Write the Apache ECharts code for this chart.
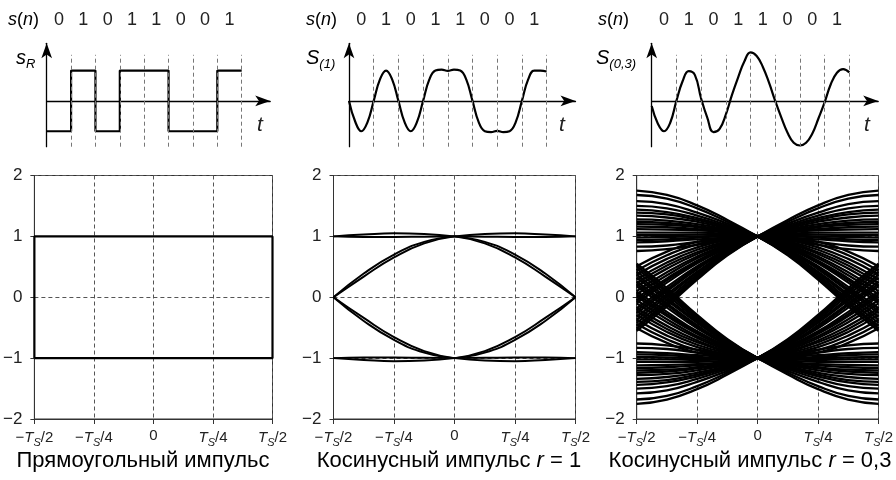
<!DOCTYPE html>
<html><head><meta charset="utf-8">
<script src="https://cdn.jsdelivr.net/npm/echarts@6/dist/echarts.min.js"></script>
<style>html,body{margin:0;padding:0;background:#fff}#c{width:896px;height:480px}</style>
</head><body><div id="c"></div>
<script>
// ---------- data ----------
const bits = ['0','1','0','1','1','0','0','1'];
const bitCenterT = [0.5,1.5,2.5,3.5,4.5,5.5,6.5,7.5];
const boundaryT = [1,2,3,4,5,6,7,8];
const squareT = [0,1,2,3,4,5,6,7,8];
const squareLevel = [-1,1,-1,1,1,-1,-1,1,1];
const waveT = [0,0.25,0.5,0.75,1,1.25,1.5,1.75,2,2.25,2.5,2.75,3,3.25,3.5,3.75,4,4.25,4.5,4.75,5,5.25,5.5,5.75,6,6.25,6.5,6.75,7,7.25,7.5,7.75,8];
const cos1Wave = [0,-0.68,-1,-0.70,0,0.70,1,0.70,0,-0.70,-1,-0.70,0,0.70,1,1.03,0.99,1.03,1,0.70,0,-0.70,-1,-1.03,-0.99,-1.03,-1,-0.70,0,0.70,1,1.0,0.97];
const cos03Wave = [-0.17,-0.75,-1.0,-0.72,0,0.65,0.98,0.85,0.08,-0.55,-1.03,-0.92,-0.45,0.2,0.78,1.3,1.6,1.48,1.12,0.6,0,-0.55,-1.05,-1.38,-1.47,-1.38,-1.08,-0.58,-0.05,0.55,0.93,1.05,0.94];

const eyeXLeft = [-0.5,-0.375,-0.25,-0.125,0];
const eyeXRight = [0.5,0.375,0.25,0.125,0];
const rectEyeX = [-0.5,-0.5,0.5,0.5,-0.5];
const rectEyeY = [-1,1,1,-1,-1];

const cos1EyeUpper = [
  [0,0.39,0.70,0.91,1],
  [0,0.34,0.655,0.885,1],
  [1,1.03,1.05,1.04,1],
  [1,0.99,0.99,0.995,1]
];
const cos1EyeLower = [
  [0,-0.39,-0.70,-0.91,-1],
  [0,-0.34,-0.655,-0.885,-1],
  [-1,-1.03,-1.05,-1.04,-1],
  [-1,-0.99,-0.99,-0.995,-1]
];
const cos03EyeUpper = [
  [1.75,1.68,1.51,1.27,1],
  [1.68,1.62,1.46,1.24,1],
  [1.58,1.53,1.39,1.21,1],
  [1.50,1.46,1.34,1.18,1],
  [1.44,1.40,1.30,1.16,1],
  [1.39,1.36,1.27,1.15,1],
  [1.34,1.31,1.24,1.13,1],
  [1.28,1.26,1.20,1.11,1],
  [1.24,1.22,1.17,1.10,1],
  [1.20,1.19,1.15,1.08,1],
  [1.16,1.15,1.12,1.07,1],
  [1.12,1.11,1.10,1.06,1],
  [1.06,1.06,1.06,1.04,1],
  [1.02,1.02,1.03,1.02,1],
  [0.98,0.99,1.00,1.01,1],
  [0.94,0.95,0.98,1.00,1],
  [0.90,0.92,0.95,0.98,1],
  [0.83,0.85,0.91,0.96,1],
  [0.76,0.79,0.86,0.94,1],
  [0.51,0.75,0.91,0.98,1],
  [0.44,0.69,0.87,0.96,1],
  [0.37,0.63,0.82,0.94,1],
  [0.29,0.57,0.78,0.92,1],
  [0.23,0.52,0.74,0.90,1],
  [0.18,0.47,0.71,0.89,1],
  [0.10,0.41,0.67,0.87,1],
  [0.05,0.36,0.64,0.85,1],
  [-0.01,0.31,0.60,0.84,1],
  [-0.05,0.28,0.58,0.83,1],
  [-0.09,0.24,0.56,0.81,1],
  [-0.18,0.17,0.51,0.79,1],
  [-0.22,0.13,0.48,0.78,1],
  [-0.26,0.10,0.46,0.77,1],
  [-0.32,0.05,0.42,0.75,1],
  [-0.37,0.01,0.40,0.74,1],
  [-0.42,-0.04,0.37,0.72,1],
  [-0.47,-0.08,0.34,0.71,1],
  [-0.51,-0.11,0.31,0.70,1],
  [-0.55,-0.15,0.29,0.69,1]
];
const cos03EyeLower = [
  [-1.75,-1.68,-1.51,-1.27,-1],
  [-1.68,-1.62,-1.46,-1.24,-1],
  [-1.58,-1.53,-1.39,-1.21,-1],
  [-1.50,-1.46,-1.34,-1.18,-1],
  [-1.44,-1.40,-1.30,-1.16,-1],
  [-1.39,-1.36,-1.27,-1.15,-1],
  [-1.34,-1.31,-1.24,-1.13,-1],
  [-1.28,-1.26,-1.20,-1.11,-1],
  [-1.24,-1.22,-1.17,-1.10,-1],
  [-1.20,-1.19,-1.15,-1.08,-1],
  [-1.16,-1.15,-1.12,-1.07,-1],
  [-1.12,-1.11,-1.10,-1.06,-1],
  [-1.06,-1.06,-1.06,-1.04,-1],
  [-1.02,-1.02,-1.03,-1.02,-1],
  [-0.98,-0.99,-1.00,-1.01,-1],
  [-0.94,-0.95,-0.98,-1.00,-1],
  [-0.90,-0.92,-0.95,-0.98,-1],
  [-0.83,-0.85,-0.91,-0.96,-1],
  [-0.76,-0.79,-0.86,-0.94,-1],
  [-0.51,-0.75,-0.91,-0.98,-1],
  [-0.44,-0.69,-0.87,-0.96,-1],
  [-0.37,-0.63,-0.82,-0.94,-1],
  [-0.29,-0.57,-0.78,-0.92,-1],
  [-0.23,-0.52,-0.74,-0.90,-1],
  [-0.18,-0.47,-0.71,-0.89,-1],
  [-0.10,-0.41,-0.67,-0.87,-1],
  [-0.05,-0.36,-0.64,-0.85,-1],
  [0.01,-0.31,-0.60,-0.84,-1],
  [0.05,-0.28,-0.58,-0.83,-1],
  [0.09,-0.24,-0.56,-0.81,-1],
  [0.18,-0.17,-0.51,-0.79,-1],
  [0.22,-0.13,-0.48,-0.78,-1],
  [0.26,-0.10,-0.46,-0.77,-1],
  [0.32,-0.05,-0.42,-0.75,-1],
  [0.37,-0.01,-0.40,-0.74,-1],
  [0.42,0.04,-0.37,-0.72,-1],
  [0.47,0.08,-0.34,-0.71,-1],
  [0.51,0.11,-0.31,-0.70,-1],
  [0.55,0.15,-0.29,-0.69,-1]
];

const xTickLabels = ['{n|−}{i|T}{s|S}{n|/2}','{n|−}{i|T}{s|S}{n|/4}','{n|0}','{i|T}{s|S}{n|/4}','{i|T}{s|S}{n|/2}'];
const yTickLabels = ['−2','−1','0','1','2'];
const panelTitles = ['Прямоугольный импульс','Косинусный импульс {i|r} = 1','Косинусный импульс {i|r} = 0,3'];
const signalNames = ['{i|s}{s|R}','{i|S}{s|(1)}','{i|S}{s|(0,3)}'];

// ---------- layout ----------
const FONT = '"Liberation Sans", Arial, sans-serif';
const TXT = '#222';
const topGrids = [
  {left:46.7, top:43.3, width:223.5, height:103.4},
  {left:349, top:43.3, width:226.5, height:103.4},
  {left:651.7, top:43.3, width:226.5, height:103.4}
];
const botGrids = [
  {left:33.5, top:175.5, width:239, height:243.5},
  {left:333.5, top:175.5, width:242, height:243.5},
  {left:636.7, top:175.5, width:242.3, height:243.5}
];
const titleCenters = [143, 449, 750];
const sNameX = [8, 306, 598];
const sigLabelX = [16, 306, 596];
const tLabelX = [260, 562, 867];

const grid = [], xAxis = [], yAxis = [], series = [];
topGrids.forEach(g => grid.push(Object.assign({containLabel:false}, g)));
botGrids.forEach(g => grid.push(Object.assign({containLabel:false, show:true, borderColor:'#333', borderWidth:1}, g)));

const arrowLine = {show:true, onZero:true, symbol:['none','arrow'], symbolSize:[8,15], lineStyle:{color:'#000', width:1.3}};
for (let i=0;i<3;i++){
  xAxis.push({gridIndex:i, type:'value', min:0, max:9.17, axisLine:arrowLine, axisTick:{show:false}, axisLabel:{show:false}, splitLine:{show:false}});
  yAxis.push({gridIndex:i, type:'value', min:-1.51, max:1.9, axisLine:arrowLine, axisTick:{show:false}, axisLabel:{show:false}, splitLine:{show:false}});
}
const labelRich = {
  n:{fontSize:15, fontFamily:FONT, color:TXT},
  i:{fontSize:15, fontFamily:FONT, fontStyle:'italic', color:TXT},
  s:{fontSize:11, fontFamily:FONT, fontStyle:'italic', color:TXT, padding:[9,0,0,0]}
};
for (let i=0;i<3;i++){
  xAxis.push({gridIndex:3+i, type:'value', min:-0.5, max:0.5, interval:0.25,
    axisLine:{show:true, onZero:false, lineStyle:{color:'#333', width:1}},
    axisTick:{show:true, length:5, lineStyle:{color:'#333'}},
    axisLabel:{margin:9, formatter:v => xTickLabels[Math.round((v+0.5)/0.25)], rich:labelRich},
    splitLine:{show:true, lineStyle:{type:[4,3], color:'#555', width:1}}});
  yAxis.push({gridIndex:3+i, type:'value', min:-2, max:2, interval:1,
    axisLine:{show:true, onZero:false, lineStyle:{color:'#333', width:1}},
    axisTick:{show:true, length:4, lineStyle:{color:'#333'}},
    axisLabel:{margin:12, fontSize:17, fontFamily:FONT, color:TXT, formatter:v => yTickLabels[Math.round(v+2)]},
    splitLine:{show:true, lineStyle:{type:[4,3], color:'#555', width:1}}});
}

function lineSeries(ax, pts, opts){
  return Object.assign({type:'line', xAxisIndex:ax, yAxisIndex:ax, data:pts, symbol:'none', showSymbol:false,
    lineStyle:{color:'#000', width:2}, silent:true, animation:false, z:3}, opts||{});
}
const bLines = {symbol:'none', silent:true, label:{show:false}, animation:false,
  lineStyle:{type:[4,3], color:'#777', width:1},
  data: boundaryT.map(t => [{coord:[t,-1.51]},{coord:[t,1.52]}])};

// top signals
series.push(lineSeries(0, squareT.map((t,k)=>[t, squareLevel[k]]), {step:'end', markLine:bLines, lineStyle:{color:'#000', width:2.2}}));
series.push(lineSeries(1, waveT.map((t,k)=>[t, cos1Wave[k]]), {smooth:0.45, markLine:bLines, lineStyle:{color:'#000', width:2.2}}));
series.push(lineSeries(2, waveT.map((t,k)=>[t, cos03Wave[k]]), {smooth:0.45, markLine:bLines, lineStyle:{color:'#000', width:2.2}}));

// eye diagrams
series.push(lineSeries(3, rectEyeX.map((x,k)=>[x, rectEyeY[k]]), {lineStyle:{color:'#000', width:2.2}}));
[cos1EyeUpper, cos1EyeLower].forEach(group => group.forEach(tr => {
  series.push(lineSeries(4, eyeXLeft.map((x,k)=>[x, tr[k]]), {smooth:0.5, lineStyle:{color:'#000', width:2}}));
  series.push(lineSeries(4, eyeXRight.map((x,k)=>[x, tr[k]]), {smooth:0.5, lineStyle:{color:'#000', width:2}}));
}));
[cos03EyeUpper, cos03EyeLower].forEach(group => group.forEach(tr => {
  series.push(lineSeries(5, eyeXLeft.map((x,k)=>[x, tr[k]]), {smooth:0.5, lineStyle:{color:'#000', width:2.3}}));
  series.push(lineSeries(5, eyeXRight.map((x,k)=>[x, tr[k]]), {smooth:0.5, lineStyle:{color:'#000', width:2.3}}));
}));

const chart = echarts.init(document.getElementById('c'), null, {renderer:'canvas'});
chart.setOption({animation:false, backgroundColor:'#fff', grid, xAxis, yAxis, series});

// ---------- text ----------
const graphic = [];
const richTop = {
  n:{fontSize:18, fontFamily:FONT, color:TXT},
  i:{fontSize:18, fontFamily:FONT, fontStyle:'italic', color:TXT}
};
for (let p=0;p<3;p++){
  graphic.push({type:'text', style:{text:'{i|s}{n|(}{i|n}{n|)}', rich:richTop, x:sNameX[p], y:20, textVerticalAlign:'middle'}});
  bits.forEach((b,k)=>{
    const pt = chart.convertToPixel({gridIndex:p}, [bitCenterT[k], 0]);
    graphic.push({type:'text', style:{text:b, x:pt[0], y:20, textAlign:'center', textVerticalAlign:'middle', font:'18px '+FONT, fill:TXT}});
  });
  graphic.push({type:'text', style:{text:signalNames[p], rich:{i:{fontSize:20, fontFamily:FONT, fontStyle:'italic', color:TXT}, s:{fontSize:13, fontFamily:FONT, fontStyle:'italic', color:TXT, padding:[12,0,0,0]}}, x:sigLabelX[p], y:58, textVerticalAlign:'middle'}});
  graphic.push({type:'text', style:{text:'t', x:tLabelX[p], y:125, textAlign:'center', textVerticalAlign:'middle', font:'italic 21px '+FONT, fill:TXT}});
  graphic.push({type:'text', style:{text:panelTitles[p], rich:{i:{fontSize:22, fontFamily:FONT, fontStyle:'italic', color:'#000'}}, x:titleCenters[p], y:461, textAlign:'center', textVerticalAlign:'middle', font:'22px '+FONT, fill:'#000'}});
}
chart.setOption({graphic});
</script></body></html>
